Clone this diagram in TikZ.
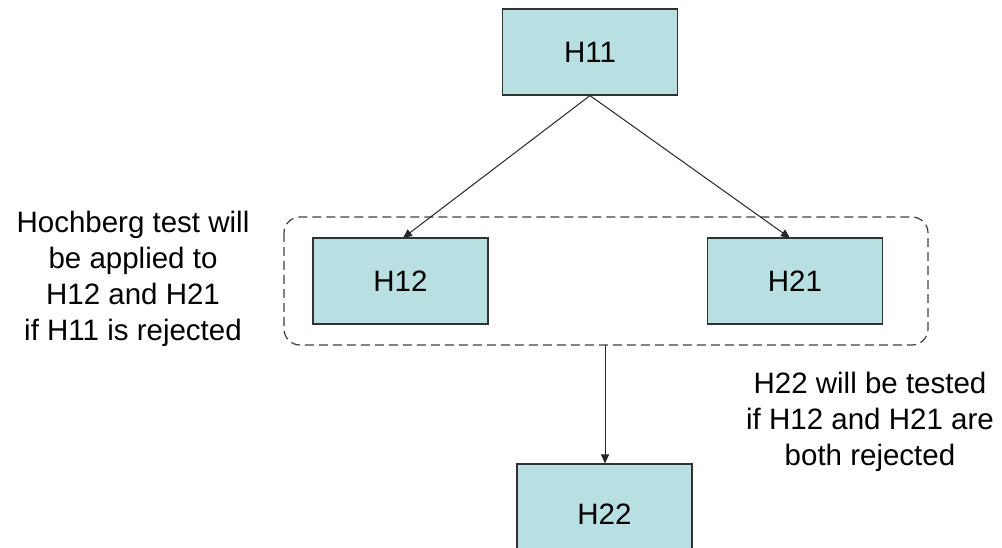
\documentclass[tikz,border=0pt]{standalone}
\usepackage{fontspec}
\setmainfont{Liberation Sans}
\usetikzlibrary{arrows.meta}
\definecolor{boxfill}{RGB}{184,223,226}
\definecolor{boxline}{RGB}{50,50,50}
\tikzset{
  hbox/.style={draw=boxline, line width=1.2pt, fill=boxfill, minimum width=175pt, minimum height=86pt, inner sep=0pt, font=\fontsize{29.5}{36}\selectfont},
  note/.style={align=center, font=\fontsize{29.5}{36}\selectfont, inner sep=0pt},
  conn/.style={draw=black!85, line width=1pt, -{Triangle[length=9pt,width=8pt]}},
  grp/.style={draw=black!75, line width=1.2pt, dash pattern=on 9pt off 5pt, rounded corners=16pt}
}
\begin{document}
\begin{tikzpicture}[x=1pt,y=-1pt]
\useasboundingbox (0,0) rectangle (1002,548);
\node[hbox] (h11) at (590,52) {H11};
\node[hbox] (h12) at (400.5,281) {H12};
\node[hbox] (h21) at (795,281) {H21};
\node[hbox, minimum height=100pt] (h22) at (604.5,514) {H22};
\draw[grp] (284,217) rectangle (928,345);
\coordinate (gb) at (605,345);
\coordinate (h12t) at (403,238);
\coordinate (h21t) at (790,238);
\draw[conn] (h11.south) -- (h12t);
\draw[conn] (h11.south) -- (h21t);
\draw[conn] (gb) -- (gb |- h22.north);
\node[note] (lt) at (133,279) {Hochberg test will\\be applied to\\H12 and H21\\if H11 is rejected};
\node[note] (rt) at (870,422) {H22 will be tested\\if H12 and H21 are\\both rejected};
\end{tikzpicture}
\end{document}
